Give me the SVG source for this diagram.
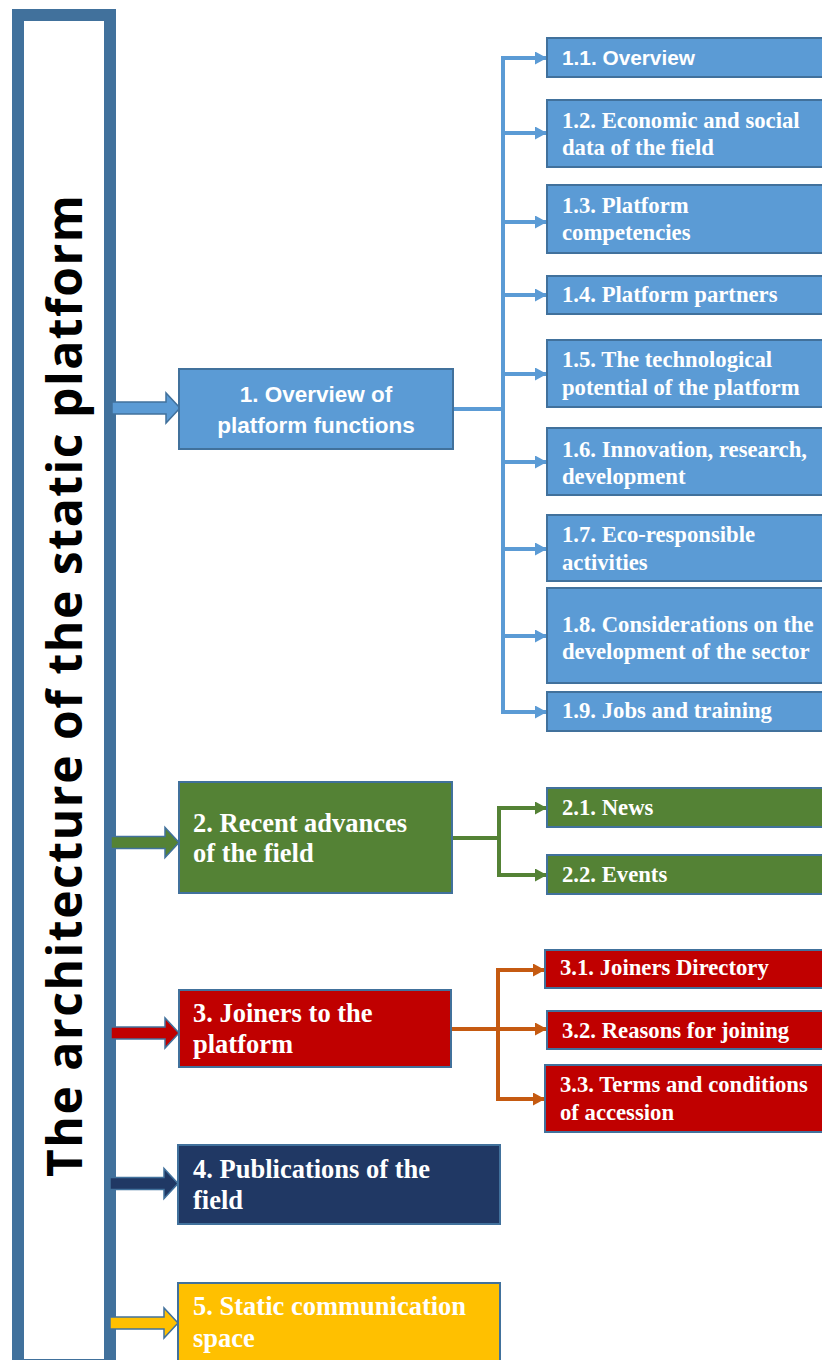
<svg xmlns="http://www.w3.org/2000/svg" xmlns:xlink="http://www.w3.org/1999/xlink" width="822" height="1360" viewBox="0 0 822 1360">
<style>
.box{stroke:#41719c;stroke-width:2}
.blue{fill:#5b9bd5}.green{fill:#548235}.red{fill:#c00000}.navy{fill:#203864}.gold{fill:#ffc000}
.ts{font-family:"Liberation Serif","Times New Roman",serif;font-weight:bold;fill:#fff}
.sub{font-size:22.7px}
.main{font-size:26.5px}
.sans{font-family:"Liberation Sans",Arial,sans-serif;font-weight:bold;fill:#fff}
.lb{fill:none;stroke:#5b9bd5;stroke-width:4}
.lg{fill:none;stroke:#548235;stroke-width:4}
.lo{fill:none;stroke:#c55a11;stroke-width:4}
.blk{stroke:#41719c;stroke-width:1.5}
</style>
<defs>
<marker id="mb" markerUnits="userSpaceOnUse" markerWidth="13" markerHeight="14" refX="12" refY="6.5" orient="auto"><path d="M0,0 L12,6.5 L0,13 Z" fill="#5b9bd5"/></marker>
<marker id="mg" markerUnits="userSpaceOnUse" markerWidth="13" markerHeight="14" refX="12" refY="6.5" orient="auto"><path d="M0,0 L12,6.5 L0,13 Z" fill="#548235"/></marker>
<marker id="mo" markerUnits="userSpaceOnUse" markerWidth="13" markerHeight="14" refX="12" refY="6.5" orient="auto"><path d="M0,0 L12,6.5 L0,13 Z" fill="#c55a11"/></marker>
<path id="ba" d="M0,-6 H54 V-15 L68,0 L54,15 V6 H0 Z"/>
</defs>

<g id="title-bar">
<rect x="18" y="15" width="92" height="1350" fill="#fff" stroke="#41719c" stroke-width="12"/>
<text transform="translate(82,686) rotate(-90)" text-anchor="middle" font-family="'Open Sans','DejaVu Sans',sans-serif" font-weight="bold" font-size="48" fill="#000" textLength="982" lengthAdjust="spacing">The architecture of the static platform</text>
</g>

<g id="connectors">
<use xlink:href="#ba" transform="translate(112,408)" class="blue blk"/>
<use xlink:href="#ba" transform="translate(111,842.5)" class="green blk"/>
<use xlink:href="#ba" transform="translate(111,1033)" class="red blk"/>
<use xlink:href="#ba" transform="translate(110,1183.5)" class="navy blk"/>
<use xlink:href="#ba" transform="translate(110,1323)" class="gold blk"/>
<path class="lb" d="M453,409 H503 M503,56 V714"/>
<path class="lb" marker-end="url(#mb)" d="M501,58 H547"/>
<path class="lb" marker-end="url(#mb)" d="M503,133 H547"/>
<path class="lb" marker-end="url(#mb)" d="M503,222 H547"/>
<path class="lb" marker-end="url(#mb)" d="M503,295 H547"/>
<path class="lb" marker-end="url(#mb)" d="M503,374 H547"/>
<path class="lb" marker-end="url(#mb)" d="M503,462 H547"/>
<path class="lb" marker-end="url(#mb)" d="M503,549 H547"/>
<path class="lb" marker-end="url(#mb)" d="M503,636 H547"/>
<path class="lb" marker-end="url(#mb)" d="M501,712 H547"/>
<path class="lg" d="M452,838 H499 M499,806 V877"/>
<path class="lg" marker-end="url(#mg)" d="M497,808 H547"/>
<path class="lg" marker-end="url(#mg)" d="M497,875 H547"/>
<path class="lo" d="M451,1029 H498 M498,968 V1101"/>
<path class="lo" marker-end="url(#mo)" d="M496,970 H545"/>
<path class="lo" marker-end="url(#mo)" d="M498,1029 H547"/>
<path class="lo" marker-end="url(#mo)" d="M496,1099 H545"/>
</g>

<g id="n1">
<rect class="box blue" x="179" y="369" width="274" height="80"/>
<text class="sans" font-size="22.5" text-anchor="middle"><tspan x="316" y="402">1. Overview of</tspan><tspan x="316" y="433">platform functions</tspan></text>
</g>
<g id="n1-1"><rect class="box blue" x="547" y="38" width="285" height="39"/><text class="sans" font-size="20.8" x="562" y="65">1.1. Overview</text></g>
<g id="n1-2"><rect class="box blue" x="547" y="100" width="285" height="67"/><text class="ts sub"><tspan x="562" y="128">1.2. Economic and social</tspan><tspan x="562" y="155">data of the field</tspan></text></g>
<g id="n1-3"><rect class="box blue" x="547" y="185" width="285" height="68"/><text class="ts sub"><tspan x="562" y="213">1.3. Platform</tspan><tspan x="562" y="240">competencies</tspan></text></g>
<g id="n1-4"><rect class="box blue" x="547" y="276" width="285" height="38"/><text class="ts sub" x="562" y="302">1.4. Platform partners</text></g>
<g id="n1-5"><rect class="box blue" x="547" y="340" width="285" height="67"/><text class="ts sub"><tspan x="562" y="367">1.5. The technological</tspan><tspan x="562" y="395">potential of the platform</tspan></text></g>
<g id="n1-6"><rect class="box blue" x="547" y="428" width="285" height="67"/><text class="ts sub"><tspan x="562" y="457">1.6. Innovation, research,</tspan><tspan x="562" y="484">development</tspan></text></g>
<g id="n1-7"><rect class="box blue" x="547" y="515" width="285" height="66"/><text class="ts sub"><tspan x="562" y="542">1.7. Eco-responsible</tspan><tspan x="562" y="570">activities</tspan></text></g>
<g id="n1-8"><rect class="box blue" x="547" y="588" width="285" height="95"/><text class="ts sub"><tspan x="562" y="632">1.8. Considerations on the</tspan><tspan x="562" y="659">development of the sector</tspan></text></g>
<g id="n1-9"><rect class="box blue" x="547" y="692" width="285" height="39"/><text class="ts sub" x="562" y="718">1.9. Jobs and training</text></g>

<g id="n2">
<rect class="box green" x="179" y="782" width="273" height="111"/>
<text class="ts main"><tspan x="193" y="832">2. Recent advances</tspan><tspan x="193" y="862">of the field</tspan></text>
</g>
<g id="n2-1"><rect class="box green" x="547" y="788" width="285" height="39"/><text class="ts sub" x="562" y="815">2.1. News</text></g>
<g id="n2-2"><rect class="box green" x="547" y="855" width="285" height="39"/><text class="ts sub" x="562" y="882">2.2. Events</text></g>

<g id="n3">
<rect class="box red" x="179" y="990" width="272" height="77"/>
<text class="ts main"><tspan x="193" y="1022">3. Joiners to the</tspan><tspan x="193" y="1053">platform</tspan></text>
</g>
<g id="n3-1"><rect class="box red" x="545" y="950" width="287" height="38"/><text class="ts sub" x="560" y="975">3.1. Joiners Directory</text></g>
<g id="n3-2"><rect class="box red" x="547" y="1011" width="285" height="38"/><text class="ts sub" x="562" y="1038">3.2. Reasons for joining</text></g>
<g id="n3-3"><rect class="box red" x="545" y="1065" width="287" height="67"/><text class="ts sub"><tspan x="560" y="1092">3.3. Terms and conditions</tspan><tspan x="560" y="1120">of accession</tspan></text></g>

<g id="n4">
<rect class="box navy" x="178" y="1145" width="322" height="79"/>
<text class="ts main"><tspan x="193" y="1178">4. Publications of the</tspan><tspan x="193" y="1209">field</tspan></text>
</g>
<g id="n5">
<rect class="box gold" x="178" y="1283" width="322" height="90"/>
<text class="ts main"><tspan x="193" y="1315">5. Static communication</tspan><tspan x="193" y="1347">space</tspan></text>
</g>
</svg>
